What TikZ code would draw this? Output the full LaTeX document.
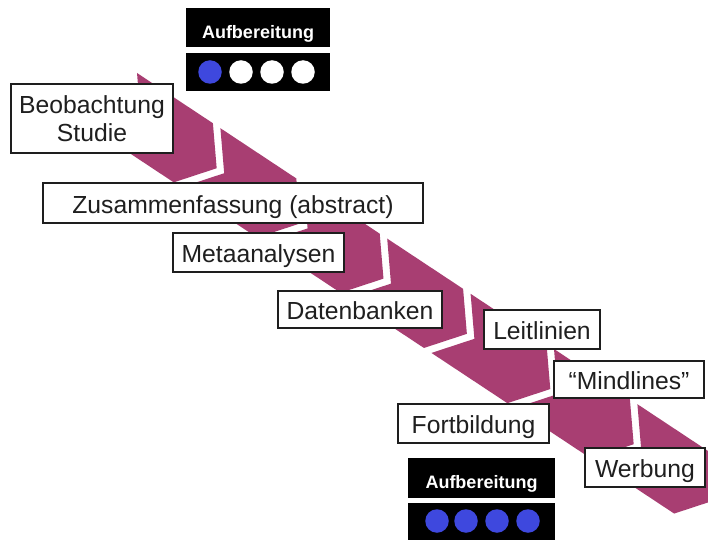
\documentclass[tikz,border=0pt]{standalone}
\usepackage{fontspec}
\setmainfont{Liberation Sans}
\definecolor{bandcol}{RGB}{168,62,114}
\definecolor{dotblue}{RGB}{62,72,222}
\definecolor{edge}{RGB}{30,30,30}
\tikzset{
  lab/.style={draw=edge, line width=1.4bp, fill=white, inner sep=0pt,
    font=\fontsize{24.7bp}{28.4bp}\selectfont, text=black!88,
    text height=20.8bp, text depth=0pt},
  labtwo/.style={draw=edge, line width=1.4bp, fill=white, inner sep=0pt,
    font=\fontsize{24.7bp}{28.4bp}\selectfont, text=black!88, align=center},
  blackbox/.style={fill=black, inner sep=0pt,
    font=\bfseries\fontsize{18bp}{20bp}\selectfont, text=white,
    text height=21.6bp, text depth=0pt},
  dot/.style={circle, inner sep=0pt, minimum size=23.5bp},
  bandseg/.style={fill=bandcol}
}
\begin{document}
\begin{tikzpicture}[x=1bp,y=-1bp]
\useasboundingbox (0,0) rectangle (708,540);
\clip (0,0) rectangle (708,540);
\fill[white] (0,0) rectangle (708,540);
% chevron band
\begin{scope}[shift={(137bp,-73bp)}, x={(0.834bp,-0.552bp)}, y={(-0.552bp,-0.834bp)}]
\foreach \a in {0,100,...,600} {
  \fill[bandseg] (\a,0) -- (\a+91,0) -- (\a+119,35.45) -- (\a+91,70.9)
     -- (\a,70.9) -- (\a+28,35.45) -- cycle;
}
\end{scope}
% label boxes
\node[labtwo, minimum width=162bp, minimum height=69bp] (beo) at (92,118.5) {Beobachtung\\Studie};
\node[lab, minimum width=380bp, minimum height=40bp] (zus) at (233,203) {Zusammenfassung (abstract)};
\node[lab, minimum width=171bp, minimum height=39bp] (meta) at (258.5,252.5) {Metaanalysen};
\node[lab, minimum width=164bp, minimum height=37bp] (daten) at (360,309.5) {Datenbanken};
\node[lab, minimum width=116bp, minimum height=39bp] (leit) at (542,329.5) {Leitlinien};
\node[lab, minimum width=150bp, minimum height=37bp] (mind) at (629,379.5) {“Mindlines”};
\node[lab, minimum width=151bp, minimum height=39bp] (fort) at (473.5,423.5) {Fortbildung};
\node[lab, minimum width=120bp, minimum height=39bp] (werb) at (645,467.5) {Werbung};
% top rating
\node[blackbox, minimum width=144bp, minimum height=39bp] (auftop) at (258,27.5) {Aufbereitung};
\node[blackbox, minimum width=144bp, minimum height=38bp] (dotstop) at (258,72) {};
\node[dot, fill=dotblue] (t1) at (210,72) {};
\node[dot, fill=white] (t2) at (241,72) {};
\node[dot, fill=white] (t3) at (272,72) {};
\node[dot, fill=white] (t4) at (303,72) {};
% bottom rating
\node[blackbox, minimum width=147bp, minimum height=40bp] (aufbot) at (481.5,478) {Aufbereitung};
\node[blackbox, minimum width=147bp, minimum height=42bp] (dotsbot) at (481.5,524) {};
\node[dot, fill=dotblue] (b1) at (437,521) {};
\node[dot, fill=dotblue] (b2) at (466,521) {};
\node[dot, fill=dotblue] (b3) at (497,521) {};
\node[dot, fill=dotblue] (b4) at (528,521) {};
\end{tikzpicture}
\end{document}
